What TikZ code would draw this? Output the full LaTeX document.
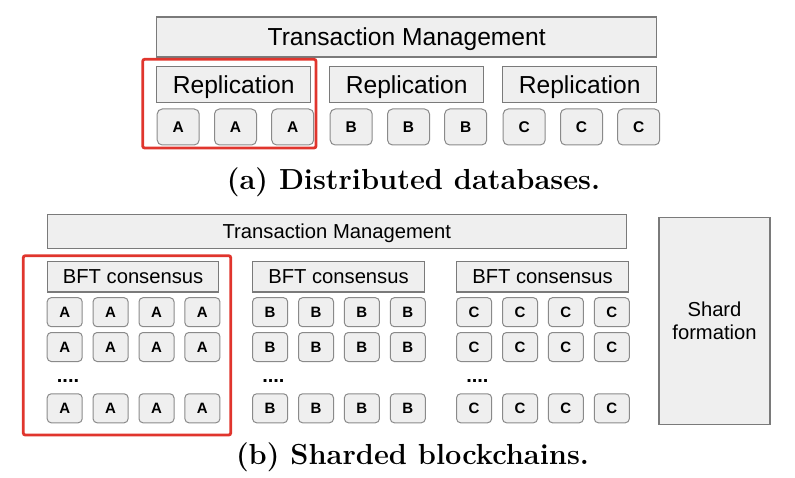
\documentclass[tikz,border=0pt]{standalone}
\usepackage{fontspec}
\usepackage{tikz}
\usetikzlibrary{positioning}
\newfontfamily\arialfont{Liberation Sans}
\definecolor{boxgray}{HTML}{EFEFEF}
\definecolor{linegray}{HTML}{7A7A7A}
\definecolor{nodegray}{HTML}{8A8A8A}
\definecolor{framered}{HTML}{E0352D}
\tikzstyle{layerA}=[rectangle,draw=linegray,fill=boxgray,line width=1.2pt,inner sep=0pt,text height=17.7pt,text depth=0pt,font=\arialfont\fontsize{24.6}{27}\selectfont]
\tikzstyle{layerB}=[rectangle,draw=linegray,fill=boxgray,line width=1.2pt,inner sep=0pt,text height=14.5pt,text depth=0pt,font=\arialfont\fontsize{20.2}{23}\selectfont]
\tikzstyle{shardbox}=[rectangle,draw=linegray,fill=boxgray,line width=1.2pt,inner sep=0pt,align=center,font=\arialfont\fontsize{20.2}{23}\selectfont]
\tikzstyle{replicaA}=[rectangle,rounded corners=5pt,draw=nodegray,fill=boxgray,line width=1pt,minimum width=42pt,minimum height=36pt,inner sep=0pt,font=\arialfont\bfseries\fontsize{15.5}{17}\selectfont]
\tikzstyle{replicaB}=[rectangle,rounded corners=4pt,draw=nodegray,fill=boxgray,line width=1pt,minimum width=35pt,minimum height=29pt,inner sep=0pt,font=\arialfont\bfseries\fontsize{15}{16}\selectfont]
\tikzstyle{dots}=[inner sep=0pt,anchor=base west,font=\arialfont\bfseries\fontsize{20}{22}\selectfont]
\tikzstyle{frame}=[draw=framered,line width=2.8pt,rounded corners=2pt]
\tikzstyle{caption}=[inner sep=0pt,font=\fontsize{29}{32}\selectfont\bfseries]

\begin{document}
\begin{tikzpicture}[x=1pt,y=-1pt]
\useasboundingbox (0,0) rectangle (795,478);

 %(a) databases
 \node[layerA,minimum width=500pt,minimum height=40pt] (tmA) at (406.7,37) {Transaction Management};

 \foreach \g/\dx in {A/156.7, B/329.7, C/502.7}
   \node[layerA,minimum width=154pt,minimum height=36pt] (repl\g) at (\dx+77,84.7) {Replication};

 \foreach \g/\dx in {A/156.7, B/329.7, C/502.7}
   \foreach \x/\name in {21.5/1, 78.8/2, 136/3}
     \node[replicaA] (a\g\name) at (\x+\dx,127) {\g};

 \draw[frame] (142.7,59.3) rectangle (316,148);

 \node[caption] (capA) at (413.5,182.5) {(a) Distributed databases.};

 %(b) blockchains
 \node[layerB,minimum width=579pt,minimum height=34.4pt] (tmB) at (336.8,231.5) {Transaction Management};

 \foreach \g/\dx in {A/47.3, B/252.7, C/456.7}{
   \node[layerB,minimum width=171.5pt,minimum height=30.5pt] (bft\g) at (\dx+85.8,276.7) {BFT consensus};
   \foreach \y/\r in {312.2/1, 347/2, 408.3/3}
     \foreach \x/\c in {17.4/1, 63.3/2, 109.2/3, 155.1/4}
       \node[replicaB] (b\g\r\c) at (\x+\dx,\y) {\g};
   \node[dots] (dots\g) at (\dx+9.4,382) {....};
 }

 \draw[frame] (23.3,255.7) rectangle (230.7,435);

 \node[shardbox,minimum width=111pt,minimum height=206.6pt] (shard) at (714.5,321) {Shard\\formation};

 \node[caption] (capB) at (412.5,457) {(b) Sharded blockchains.};

\end{tikzpicture}
\end{document}
